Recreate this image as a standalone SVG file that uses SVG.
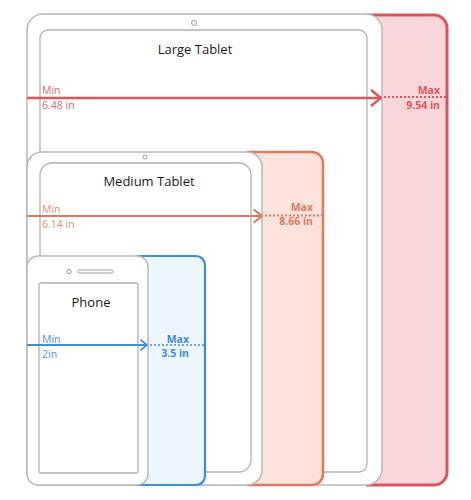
<svg xmlns="http://www.w3.org/2000/svg" width="471" height="500" viewBox="0 0 471 500">
<defs>
<style>
.body{fill:#fff;stroke:#b9b9b9;stroke-width:1.5}
.screen{fill:#fff;stroke:#b3b3b3;stroke-width:1.3}
.title{font-family:"Open Sans","Liberation Sans",sans-serif;font-size:13px;fill:#1a1a1a;text-anchor:middle}
.lbl{font-family:"Open Sans","Liberation Sans",sans-serif;font-size:10.5px}
.max{font-weight:bold;text-anchor:end}
.red{fill:#f9d6d9;stroke:#d9565a;stroke-width:3}
.org{fill:#fde3db;stroke:#e07a5f;stroke-width:2.5}
.blu{fill:#eef6fd;stroke:#3a8ede;stroke-width:2.2}
.dot{stroke-dasharray:2 2;fill:none}
</style>
<marker id="ahR" viewBox="0 0 12 18" refX="11" refY="9" markerWidth="12" markerHeight="18" markerUnits="userSpaceOnUse" orient="auto"><path d="M1,1 L11,9 L1,17" fill="none" stroke="#d9565a" stroke-width="2.5"/></marker>
<marker id="ahO" viewBox="0 0 12 18" refX="11" refY="9" markerWidth="10" markerHeight="15" markerUnits="userSpaceOnUse" orient="auto"><path d="M1,1 L11,9 L1,17" fill="none" stroke="#e07a5f" stroke-width="2.5"/></marker>
<marker id="ahB" viewBox="0 0 12 18" refX="11" refY="9" markerWidth="8" markerHeight="12" markerUnits="userSpaceOnUse" orient="auto"><path d="M1,1 L11,9 L1,17" fill="none" stroke="#3a8ede" stroke-width="2.5"/></marker>
</defs>
<rect width="471" height="500" fill="#fff"/>

<g id="large-tablet">
<path class="red" d="M366,15 H434 A13,13 0 0 1 447,28 V472 A13,13 0 0 1 434,485 H366"/>
<rect class="body" x="27" y="14" width="355" height="471" rx="16"/>
<rect class="screen" x="40" y="30" width="327" height="442" rx="8"/>
<circle cx="194" cy="23" r="2.5" fill="none" stroke="#9a9a9a" stroke-width="1"/>
<text class="title" x="195" y="54">Large Tablet</text>
</g>

<g id="medium-tablet">
<path class="org" d="M247,152 H312 A11,11 0 0 1 323,163 V474 A11,11 0 0 1 312,485 H247"/>
<rect class="body" x="27" y="152" width="235" height="333" rx="15"/>
<rect class="screen" x="40" y="163" width="211" height="309" rx="12"/>
<circle cx="145" cy="157" r="2" fill="none" stroke="#9a9a9a" stroke-width="1"/>
<text class="title" x="149" y="186">Medium Tablet</text>
</g>

<g id="phone">
<path class="blu" d="M137,256 H196 A9,9 0 0 1 205,265 V476 A9,9 0 0 1 196,485 H137"/>
<rect class="body" x="27" y="256" width="121" height="229" rx="11"/>
<rect class="screen" x="39" y="283" width="99" height="190" rx="2"/>
<circle cx="69" cy="271.5" r="2.2" fill="none" stroke="#9a9a9a" stroke-width="1"/>
<rect x="78" y="270" width="35" height="3" rx="1.5" fill="none" stroke="#9a9a9a" stroke-width="1"/>
<text class="title" x="91" y="307">Phone</text>
</g>

<g id="connectors">
<line x1="27" y1="98" x2="381" y2="98" stroke="#d9565a" stroke-width="2.5" marker-end="url(#ahR)"/>
<line class="dot" x1="384" y1="97" x2="446" y2="97" stroke="#d9565a" stroke-width="2"/>
<line x1="27" y1="216" x2="262" y2="216" stroke="#e07a5f" stroke-width="2" marker-end="url(#ahO)"/>
<line class="dot" x1="265" y1="215.5" x2="322" y2="215.5" stroke="#e07a5f" stroke-width="2"/>
<line x1="27" y1="345" x2="147" y2="345" stroke="#3a8ede" stroke-width="1.8" marker-end="url(#ahB)"/>
<line class="dot" x1="150" y1="345" x2="204" y2="345" stroke="#3a8ede" stroke-width="1.6"/>
</g>

<g id="labels">
<text class="lbl" x="42" y="94" fill="#d56a6c">Min</text>
<text class="lbl" x="42" y="109" fill="#d56a6c">6.48 in</text>
<text class="lbl max" x="440" y="94" fill="#d9565a">Max</text>
<text class="lbl max" x="440" y="109" fill="#d9565a">9.54 in</text>
<text class="lbl" x="42" y="213" fill="#e38e74">Min</text>
<text class="lbl" x="42" y="228" fill="#e38e74">6.14 in</text>
<text class="lbl max" x="313" y="211" fill="#e07a5f">Max</text>
<text class="lbl max" x="313" y="225" fill="#e07a5f">8.66 in</text>
<text class="lbl" x="42" y="343" fill="#4f95d8">Min</text>
<text class="lbl" x="42" y="358" fill="#4f95d8">2in</text>
<text class="lbl max" x="189" y="342.5" fill="#3a8ede">Max</text>
<text class="lbl max" x="189" y="357" fill="#3a8ede">3.5 in</text>
</g>
</svg>
